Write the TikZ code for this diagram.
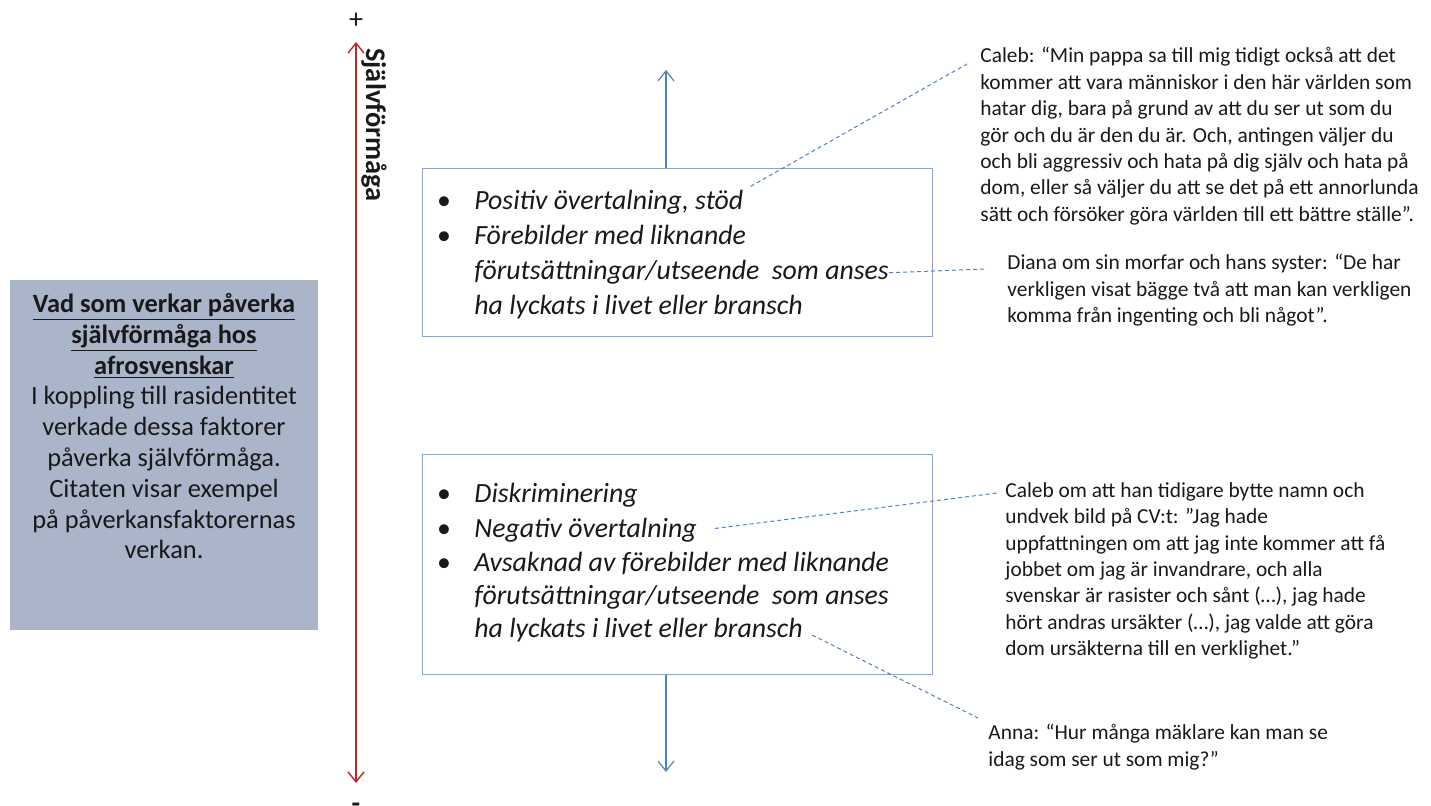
\documentclass[tikz,border=0pt]{standalone}
\usepackage{fontspec}
\setmainfont{Carlito}
\usepackage{tikz}
\usetikzlibrary{arrows.meta, positioning}
\definecolor{axisred}{RGB}{192,40,40}
\definecolor{flowblue}{RGB}{79,129,189}
\definecolor{frameblue}{RGB}{140,165,200}
\definecolor{infofill}{RGB}{170,181,201}
\definecolor{inkgray}{RGB}{25,25,25}
\tikzset{
  factorbox/.style={rectangle, draw=frameblue, line width=0.6pt, fill=white,
    anchor=north west, minimum width=255pt, inner sep=0pt},
  factorline/.style={anchor=base west, inner sep=0pt,
    font=\fontsize{13.9}{17.4}\selectfont\itshape, text=inkgray},
  dot/.style={anchor=base, inner sep=0pt, font=\fontsize{13.9}{17.4}\selectfont, text=inkgray},
  infobox/.style={rectangle, fill=infofill, anchor=north west, inner sep=0pt},
  infotext/.style={align=center, inner sep=0pt,
    font=\fontsize{13.2}{15.4}\selectfont, text=inkgray},
  quotetext/.style={anchor=north west, align=left, inner sep=0pt,
    font=\fontsize{10.7}{13.2}\selectfont, text=inkgray},
  flowarrow/.style={-{Straight Barb[length=5pt,width=8pt]}, color=flowblue, line width=0.6pt},
  axisarrow/.style={{Straight Barb[length=5pt,width=8pt]}-{Straight Barb[length=5pt,width=8pt]},
    color=axisred, line width=0.7pt},
  link/.style={dash pattern=on 2pt off 1.5pt, color=flowblue, line width=0.5pt}
}

\begin{document}
\begin{tikzpicture}[x=0.5pt, y=-0.5pt]
  \useasboundingbox (0,0) rectangle (1431,806);

  % Info panel
  \node[infobox, minimum width=154pt, minimum height=175pt] (info) at (10,280) {};
  \node[infotext, anchor=north] (infotxt) at (164,293) {%
    \underline{\textbf{Vad som verkar påverka}}\\
    \underline{\textbf{självförmåga hos}}\\
    \underline{\textbf{afrosvenskar}}\\
    I koppling till rasidentitet\\
    verkade dessa faktorer\\
    påverka självförmåga.\\
    Citaten visar exempel\\
    på påverkansfaktorernas\\
    verkan.};

  % Self-efficacy axis
  \coordinate (axistop) at (356,42);
  \coordinate (axisbot) at (356,783);
  \draw[axisarrow] (axisbot) -- (axistop);
  \node[font=\fontsize{14}{14}\selectfont, text=inkgray] (plus) at (356,21) {+};
  \node[font=\fontsize{14}{14}\selectfont\bfseries, text=inkgray] (minus) at (356,808) {-};
  \node[rotate=-90, font=\fontsize{14.2}{16}\selectfont\bfseries, text=inkgray] (axislab) at (374,125) {Självförmåga};

  % Positive factors
  \node[factorbox, minimum height=84pt] (posbox) at (422,168) {};
  \foreach \n/\yy/\txt in {1/210/{Positiv övertalning, stöd},
                           2/245/{Förebilder med liknande},
                           3/280/{förutsättningar/utseende\ \ som anses},
                           4/315/{ha lyckats i livet eller bransch}}
    \node[factorline] (pos\n) at (474,\yy) {\txt};
  \foreach \yy in {210,245}
    \node[dot] at (444,\yy) {\textbullet};

  % Negative factors
  \node[factorbox, minimum height=110pt] (negbox) at (422,454) {};
  \foreach \n/\yy/\txt in {1/503/{Diskriminering},
                           2/538/{Negativ övertalning},
                           3/572/{Avsaknad av förebilder med liknande},
                           4/605/{förutsättningar/utseende\ \ som anses},
                           5/638/{ha lyckats i livet eller bransch}}
    \node[factorline] (neg\n) at (474,\yy) {\txt};
  \foreach \yy in {503,538,572}
    \node[dot] at (444,\yy) {\textbullet};

  % Direction arrows
  \coordinate (uptip) at (666,70);
  \coordinate (downtip) at (666,772);
  \draw[flowarrow] (posbox.north -| uptip) -- (uptip);
  \draw[flowarrow] (negbox.south -| downtip) -- (downtip);

  % Quotes
  \node[quotetext] (calebA) at (980,47) {%
    Caleb: “Min pappa sa till mig tidigt också att det\\
    kommer att vara människor i den här världen som\\
    hatar dig, bara på grund av att du ser ut som du\\
    gör och du är den du är. Och, antingen väljer du\\
    och bli aggressiv och hata på dig själv och hata på\\
    dom, eller så väljer du att se det på ett annorlunda\\
    sätt och försöker göra världen till ett bättre ställe”.};
  \node[quotetext] (diana) at (1007,254) {%
    Diana om sin morfar och hans syster: “De har\\
    verkligen visat bägge två att man kan verkligen\\
    komma från ingenting och bli något”.};
  \node[quotetext] (calebB) at (1005,482) {%
    Caleb om att han tidigare bytte namn och\\
    undvek bild på CV:t: ”Jag hade\\
    uppfattningen om att jag inte kommer att få\\
    jobbet om jag är invandrare, och alla\\
    svenskar är rasister och sånt (…), jag hade\\
    hört andras ursäkter (…), jag valde att göra\\
    dom ursäkterna till en verklighet.”};
  \node[quotetext] (anna) at (988,724) {%
    Anna: “Hur många mäklare kan man se\\
    idag som ser ut som mig?”};

  % Quote links
  \coordinate (calebAin) at (967,64);
  \coordinate (dianain) at (985,269);
  \coordinate (calebBin) at (997,493);
  \coordinate (annain) at (978,718);
  \draw[link, shorten <=4pt] (pos1.north east) -- (calebAin);
  \draw[link] (pos3.east) -- (dianain);
  \draw[link, shorten <=9pt] (neg2.east) -- (calebBin);
  \draw[link, shorten <=5pt] (neg5.east) -- (annain);
\end{tikzpicture}
\end{document}
